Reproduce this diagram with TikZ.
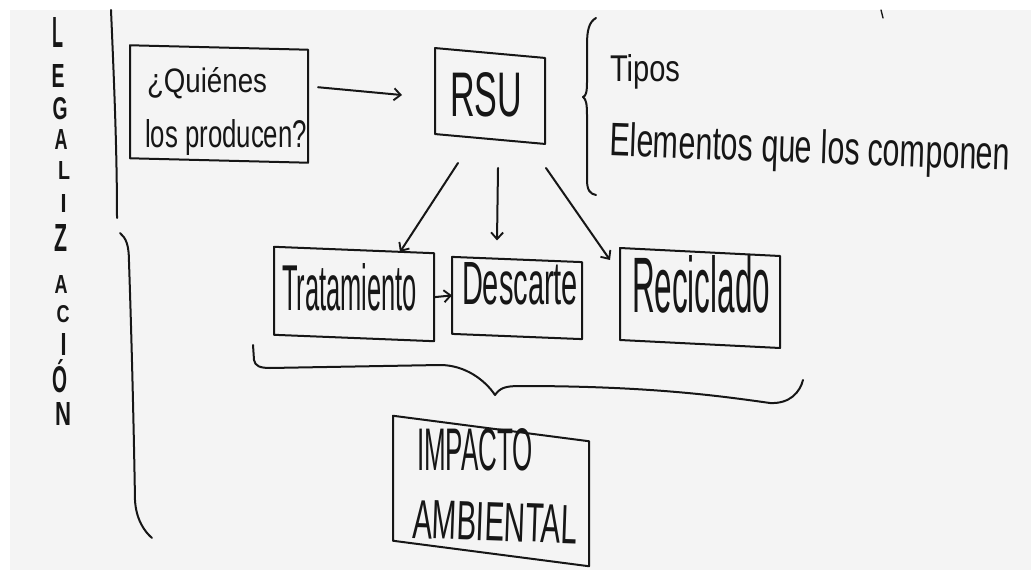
\documentclass[tikz,border=0pt]{standalone}
\usepackage{fontspec}
\setmainfont{Liberation Sans}
\usepackage{graphicx}
\usetikzlibrary{arrows.meta}
\newdimen\px \px=0.75pt
\newcommand{\hw}[3]{\resizebox{#1\px}{#2\px}{#3}}
\definecolor{paper}{RGB}{244,244,244}
\definecolor{ink}{RGB}{22,22,22}
\begin{document}
\begin{tikzpicture}[x=0.75pt,y=-0.75pt,line width=1.5pt,line cap=round,line join=round,
  draw=ink,text=ink,
  box/.style={draw,inner sep=0pt,outer sep=0pt},
  txt/.style={inner sep=0pt,outer sep=0pt},
  arr/.style={-{Straight Barb[length=5pt,width=9pt,line width=1.4pt]}}]
\useasboundingbox (0,0) rectangle (1031,570);
\fill[white] (0,0) rectangle (1031,570);
\fill[paper] (10,10) rectangle (1031,570);

% vertical title
\foreach \c/\yb/\h/\xc/\w [count=\i] in {L/48/30/58/11, E/88/23/58/13, G/120/22/60/15, A/150/20/61/13, L/180/18/64/12, I/213/18/63.5/6, Z/252/27/61/13, A/293/18/61/13, C/322/17/63/13, I/355/22/63.5/6, Ó/392/33/60/15, N/425/23/63/16}
  \node[txt,anchor=base] (leg\i) at (\xc,\yb) {\hw{\w}{\h}{\bfseries\c}};

% left bars
\draw (111,10) .. controls (114,80) and (117,150) .. (117,218);
\draw (120,233) .. controls (126,238) and (129,245) .. (129,262)
  .. controls (132,350) and (134,440) .. (135,500)
  .. controls (136,520) and (145,532) .. (152,538);

% boxes
\node[box,minimum width=133.5pt,minimum height=84.75pt,yslant=-0.025] (quien) at (219,104) {};
\node[box,minimum width=82.5pt,minimum height=64.5pt,yslant=-0.09] (rsu) at (490,96) {};
\node[box,minimum width=120pt,minimum height=66pt,yslant=-0.04] (trat) at (354,294) {};
\node[box,minimum width=97.5pt,minimum height=57.75pt,yslant=-0.04] (desc) at (517,298) {};
\node[box,minimum width=120pt,minimum height=69pt,yslant=-0.05] (recic) at (700,298) {};
\node[box,minimum width=147pt,minimum height=93.75pt,yslant=-0.13] (imp) at (491,491) {};

% texts
\node[txt,anchor=base west] (quien1) at (147,93) {\hw{120}{25}{¿Quiénes}};
\node[txt,anchor=base west] (quien2) at (145,148) {\hw{162}{28}{los producen?}};
\node[txt,anchor=base west] (rsut) at (450,117) {\hw{72}{44}{RSU}};
\node[txt,anchor=base west] (tipos) at (610,82) {\hw{70}{27}{Tipos}};
\node[txt,anchor=base west,rotate=-2] (elem) at (609,156) {\hw{401}{34}{Elementos que los componen}};
\node[txt,anchor=base west] (tratt) at (282,310) {\hw{135}{47}{Tratamiento}};
\node[txt,anchor=base west] (desct) at (462,305) {\hw{116}{42}{Descarte}};
\node[txt,anchor=base west] (recict) at (632,312) {\hw{138}{57}{Reciclado}};
\node[txt,anchor=base west] (imp1) at (417,470) {\hw{116}{42}{IMPACTO}};
\node[txt,anchor=base west,rotate=-2] (imp2) at (412,538) {\hw{165}{38}{AMBIENTAL}};

% connectors
\draw[arr] ([shift={(10,-19)}]quien.east) -- ([shift={(-33,4)}]rsu.west);
\draw[arr] ([shift={(-32,24)}]rsu.south) -- ([shift={(46,2)}]trat.north);
\draw[arr] ([shift={(8,29)}]rsu.south) -- ([shift={(-20,-19)}]desc.north);
\draw[arr] ([shift={(56,29)}]rsu.south) -- ([shift={(-90,8)}]recic.north);
\draw[arr] (trat.east) -- (desc.west);

% braces
\draw (596,18) .. controls (589,22) and (587,30) .. (587,45) -- (587,82)
  .. controls (587,92) and (586,96) .. (583,97)
  .. controls (586,99) and (587,104) .. (587,115) -- (587,180)
  .. controls (587,190) and (590,194) .. (596,195);
\draw (253,345) -- (254,360) .. controls (255,366) and (260,368) .. (270,368)
  -- (440,365) .. controls (465,365) and (485,380) .. (495,395)
  .. controls (500,388) and (505,386) .. (520,386)
  .. controls (650,386) and (720,396) .. (770,403)
  .. controls (790,404) and (800,392) .. (803,380);

% stray mark
\draw[line width=1pt] (881,10) -- (883,18);
\end{tikzpicture}
\end{document}
